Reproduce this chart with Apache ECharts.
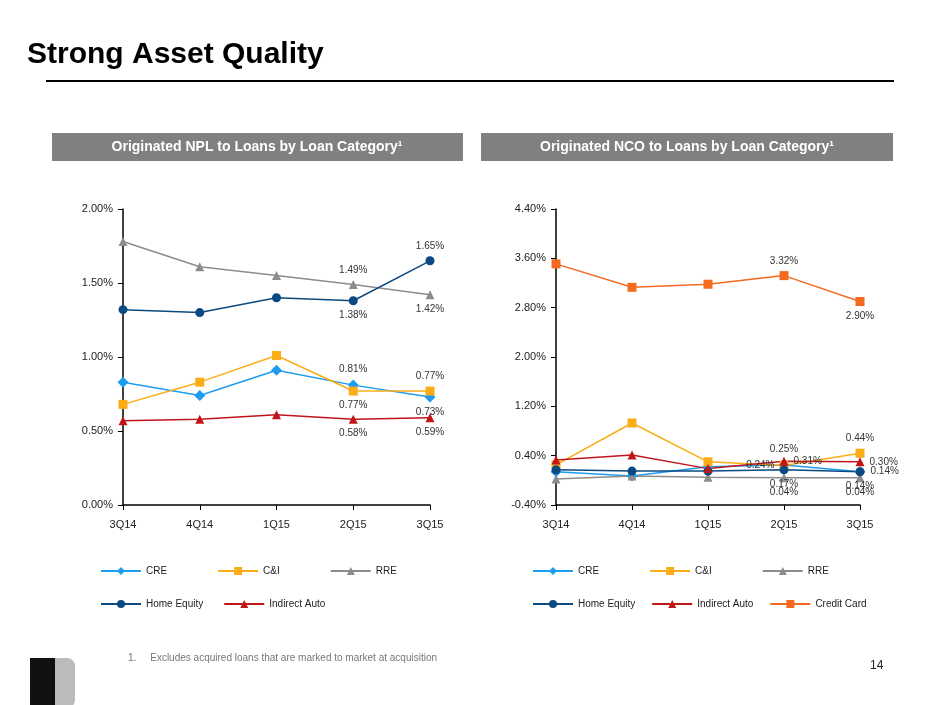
<!DOCTYPE html>
<html><head><meta charset="utf-8">
<script src="https://cdn.jsdelivr.net/npm/echarts@6/dist/echarts.min.js"></script>
<style>body{margin:0;background:#fff}#c{width:940px;height:705px}</style>
</head><body><div id="c"></div>
<script>
const quarters = ["3Q14", "4Q14", "1Q15", "2Q15", "3Q15"];

// Originated NPL to loans (%)
const nplCRE = [0.83, 0.74, 0.91, 0.81, 0.73];
const nplCI = [0.68, 0.83, 1.01, 0.77, 0.77];
const nplRRE = [1.78, 1.61, 1.55, 1.49, 1.42];
const nplHE = [1.32, 1.30, 1.40, 1.38, 1.65];
const nplAuto = [0.57, 0.58, 0.61, 0.58, 0.59];

// Originated NCO to loans (%)
const ncoCRE = [0.14, 0.07, 0.22, 0.25, 0.14];
const ncoCI = [0.25, 0.93, 0.30, 0.24, 0.44];
const ncoRRE = [0.02, 0.07, 0.05, 0.04, 0.04];
const ncoHE = [0.17, 0.15, 0.15, 0.17, 0.14];
const ncoAuto = [0.33, 0.41, 0.19, 0.31, 0.30];
const ncoCard = [3.51, 3.13, 3.18, 3.32, 2.90];

const FONT = "'Liberation Sans', Arial, sans-serif";
const styles = {
  "CRE": { color: "#1e9cf0", symbol: "diamond", size: 11 },
  "C&I": { color: "#fbad18", symbol: "rect", size: 9 },
  "RRE": { color: "#8c8c8c", symbol: "triangle", size: 9 },
  "Home Equity": { color: "#0a4a80", symbol: "circle", size: 9 },
  "Indirect Auto": { color: "#c0161a", symbol: "triangle", size: 9 },
  "Credit Card": { color: "#f26b21", symbol: "rect", size: 9 }
};

// labels shown on last two points: [position at 2Q15, position at 3Q15]
function mk(name, data, idx, labelPos) {
  const s = styles[name];
  return {
    name: name, type: "line", xAxisIndex: idx, yAxisIndex: idx,
    symbol: s.symbol, symbolSize: s.size,
    lineStyle: { color: s.color, width: 1.5 }, itemStyle: { color: s.color },
    data: data.map((v, i) => {
      const p = labelPos ? labelPos[i - 3] : null;
      return { value: v, label: { show: !!p, position: p || "top", formatter: v.toFixed(2) + "%",
        fontFamily: FONT, fontSize: 10, color: "#333" } };
    })
  };
}

const axisLabel = { fontFamily: FONT, fontSize: 11, color: "#222" };
function xAx(gi) {
  return { type: "category", gridIndex: gi, data: quarters, boundaryGap: false,
    axisLine: { onZero: false, lineStyle: { color: "#000", width: 1.5 } }, axisTick: { show: true, length: 5 },
    axisLabel: Object.assign({ margin: 14 }, axisLabel) };
}
function yAx(gi, min, max, step) {
  return { type: "value", gridIndex: gi, min: min, max: max, interval: step,
    axisLine: { show: true, lineStyle: { color: "#000", width: 1.5 } },
    axisTick: { show: true, length: 5 },
    splitLine: { show: false },
    axisLabel: Object.assign({ formatter: v => v.toFixed(2) + "%", margin: 10 }, axisLabel) };
}
function lg(names, left, top, gap) {
  return { data: names, left: left, top: top, itemGap: gap, itemWidth: 40, itemHeight: 10,
    textStyle: { fontFamily: FONT, fontSize: 10, color: "#222" } };
}

const chart = echarts.init(document.getElementById("c"));
chart.setOption({
  animation: false,
  textStyle: { fontFamily: FONT },
  graphic: [
    { type: "text", left: 27, top: 40, style: { text: "Strong Asset Quality", font: "bold 30px " + FONT, fill: "#000" } },
    { type: "rect", shape: { x: 46, y: 80, width: 848, height: 2 }, style: { fill: "#000" } },
    { type: "rect", shape: { x: 52, y: 133, width: 411, height: 28 }, style: { fill: "#808080" } },
    { type: "text", x: 257, y: 147, style: { text: "Originated NPL to Loans by Loan Category¹", font: "bold 14px " + FONT, fill: "#fff", align: "center", verticalAlign: "middle" } },
    { type: "rect", shape: { x: 481, y: 133, width: 412, height: 28 }, style: { fill: "#808080" } },
    { type: "text", x: 687, y: 147, style: { text: "Originated NCO to Loans by Loan Category¹", font: "bold 14px " + FONT, fill: "#fff", align: "center", verticalAlign: "middle" } },
    { type: "text", left: 128, top: 653, style: { text: "1.     Excludes acquired loans that are marked to market at acquisition", font: "10px " + FONT, fill: "#777" } },
    { type: "text", left: 870, top: 660, style: { text: "14", font: "12px " + FONT, fill: "#222" } },
    { type: "rect", shape: { x: 30, y: 658, width: 45, height: 50, r: [4, 8, 8, 4] }, style: { fill: "#bbb" } },
    { type: "rect", shape: { x: 30, y: 658, width: 25, height: 50 }, style: { fill: "#111" } }
  ],
  grid: [
    { left: 123, top: 209, width: 307, height: 296 },
    { left: 556, top: 209, width: 304, height: 296 }
  ],
  xAxis: [xAx(0), xAx(1)],
  yAxis: [yAx(0, 0, 2, 0.5), yAx(1, -0.4, 4.4, 0.8)],
  legend: [
    lg(["CRE", "C&I", "RRE"], 95, 561, 50),
    lg(["Home Equity", "Indirect Auto"], 95, 594, 20),
    lg(["CRE", "C&I", "RRE"], 527, 561, 50),
    lg(["Home Equity", "Indirect Auto", "Credit Card"], 527, 594, 16)
  ],
  series: [
    mk("CRE", nplCRE, 0, ["top", "bottom"]),
    mk("C&I", nplCI, 0, ["bottom", "top"]),
    mk("RRE", nplRRE, 0, ["top", "bottom"]),
    mk("Home Equity", nplHE, 0, ["bottom", "top"]),
    mk("Indirect Auto", nplAuto, 0, ["bottom", "bottom"]),
    mk("CRE", ncoCRE, 1, ["top", "right"]),
    mk("C&I", ncoCI, 1, ["left", "top"]),
    mk("RRE", ncoRRE, 1, ["bottom", "bottom"]),
    mk("Home Equity", ncoHE, 1, ["bottom", "bottom"]),
    mk("Indirect Auto", ncoAuto, 1, ["right", "right"]),
    mk("Credit Card", ncoCard, 1, ["top", "bottom"])
  ]
});
</script></body></html>
